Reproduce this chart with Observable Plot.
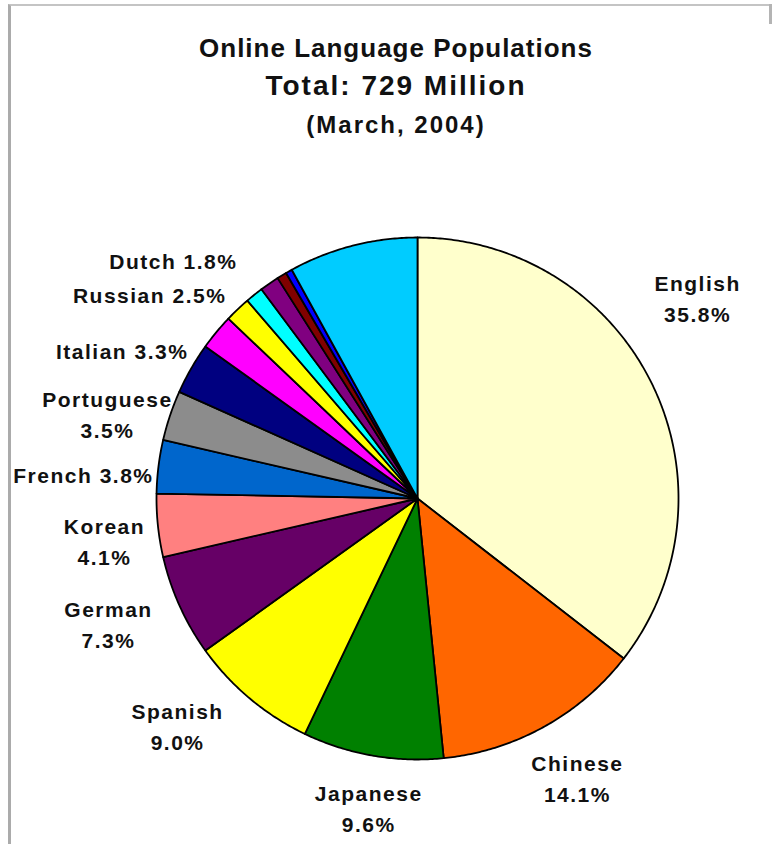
<!DOCTYPE html>
<html>
<head>
<meta charset="utf-8">
<script src="https://cdn.jsdelivr.net/npm/d3@7"></script>
<script src="https://cdn.jsdelivr.net/npm/@observablehq/plot@0.6"></script>
<style>
  html, body { margin: 0; padding: 0; background: #fff; }
  #page { position: relative; width: 777px; height: 844px; overflow: hidden; background: #fff;
          font-family: "Liberation Sans", Arial, Helvetica, sans-serif; color: #111; }
  #frame { position: absolute; left: 8px; top: 4px; width: 764px; height: 900px;
           border-left: 3px solid #ababab; border-top: 2px solid #c4c4c4; box-sizing: border-box; }
  #corner { position: absolute; left: 769px; top: 4px; width: 3px; height: 20px; background: #b4b4b4; }
  .t { position: absolute; left: 0; width: 792px; text-align: center; font-weight: bold; line-height: 1; white-space: nowrap; }
  #t1 { top: 35px; font-size: 26px; letter-spacing: 1px; }
  #t2 { top: 72px; font-size: 28px; letter-spacing: 2px; }
  #t3 { top: 113px; font-size: 24px; letter-spacing: 2px; }
  #chart { position: absolute; left: 0; top: 145px; }
  #chart svg text { letter-spacing: 1.5px; }
</style>
</head>
<body>
<div id="page">
  <div id="frame"></div>
  <div id="corner"></div>
  <div class="t" id="t1">Online Language Populations</div>
  <div class="t" id="t2">Total: 729 Million</div>
  <div class="t" id="t3">(March, 2004)</div>
  <div id="chart"></div>
</div>
<script>
// ---- data (slice shares, clockwise from 12 o'clock) ----
const sliceNames = ["English", "Chinese", "Japanese", "Spanish", "German", "Korean", "French",
  "Portuguese", "Italian", "Russian", "Dutch", "Other A", "Other B", "Other C", "Other D", "Other E"];
const sliceShares = [35.5, 12.9, 8.7, 8.0, 6.3, 3.9, 3.3, 3.1, 3.2, 2.2, 1.6, 1.1, 1.2, 0.6, 0.4, 8.0];
const sliceColors = ["#ffffcc", "#ff6600", "#008000", "#ffff00", "#660066", "#ff8080", "#0066cc",
  "#8c8c8c", "#000080", "#ff00ff", "#ffff00", "#00ffff", "#800080", "#800000", "#0000ff", "#00ccff"];

// ---- label texts ----
const labelNames = ["English", "Chinese", "Japanese", "Spanish", "German", "Korean", "French",
  "Portuguese", "Italian", "Russian", "Dutch"];
const labelPercents = [35.8, 14.1, 9.6, 9.0, 7.3, 4.1, 3.8, 3.5, 3.3, 2.5, 1.8];

// ---- layout (label placement around the pie: angle in degrees clockwise from top, radius in pie radii) ----
const labelLayout = [
  {angle: 54.2, radius: 1.323, anchor: "middle", wrap: true},
  {angle: 150.1, radius: 1.229, anchor: "middle", wrap: true},
  {angle: 189.0, radius: 1.195, anchor: "middle", wrap: true},
  {angle: 226.7, radius: 1.263, anchor: "middle", wrap: true},
  {angle: 248.1, radius: 1.276, anchor: "middle", wrap: true},
  {angle: 262.5, radius: 1.210, anchor: "middle", wrap: true},
  {angle: 275.4, radius: 1.016, anchor: "end", wrap: false},
  {angle: 285.5, radius: 1.233, anchor: "middle", wrap: true},
  {angle: 303.2, radius: 1.049, anchor: "end", wrap: false},
  {angle: 317.0, radius: 1.074, anchor: "end", wrap: false},
  {angle: 323.1, radius: 1.149, anchor: "end", wrap: false}
];

const W = 777, H = 699;        // svg size
const R = 261;                  // pie radius in px
const CX = 417, CY = 353;       // pie centre in svg px

// wedge outlines built from d3.pie angles
const arcs = d3.pie().sort(null).value(d => d.share)(
  sliceNames.map((name, i) => ({name, share: sliceShares[i]}))
);
const wedgePts = [];
for (const a of arcs) {
  const n = Math.max(2, Math.ceil((a.endAngle - a.startAngle) / (Math.PI / 360)));
  wedgePts.push({name: a.data.name, x: 0, y: 0});
  for (let k = 0; k <= n; k++) {
    const t = a.startAngle + (a.endAngle - a.startAngle) * k / n;
    wedgePts.push({name: a.data.name, x: Math.sin(t), y: Math.cos(t)});
  }
  wedgePts.push({name: a.data.name, x: 0, y: 0});
}

const labels = labelNames.map((name, i) => {
  const L = labelLayout[i];
  const t = L.angle * Math.PI / 180;
  const pct = labelPercents[i].toFixed(1) + "%";
  return {
    text: L.wrap ? name + "\n" + pct : name + " " + pct,
    anchor: L.anchor,
    x: Math.sin(t) * L.radius,
    y: Math.cos(t) * L.radius
  };
});

const textOpts = {
  x: "x", y: "y", text: "text",
  fontSize: 21, fontWeight: "bold",
  fontFamily: "'Liberation Sans', Arial, Helvetica, sans-serif",
  lineHeight: 1.48, fill: "#111"
};

const chart = Plot.plot({
  width: W, height: H, margin: 0,
  style: {background: "transparent", overflow: "visible"},
  x: {domain: [-CX / R, (W - CX) / R], axis: null},
  y: {domain: [-(H - CY) / R, CY / R], axis: null},
  color: {domain: sliceNames, range: sliceColors},
  marks: [
    Plot.line(wedgePts, {x: "x", y: "y", z: "name", fill: "name", stroke: "#000",
      strokeWidth: 1.8, strokeLinejoin: "round", curve: "linear"}),
    Plot.text(labels.filter(d => d.anchor === "middle"), {...textOpts, textAnchor: "middle"}),
    Plot.text(labels.filter(d => d.anchor === "end"), {...textOpts, textAnchor: "end"})
  ]
});
document.getElementById("chart").appendChild(chart);
</script>
</body>
</html>
